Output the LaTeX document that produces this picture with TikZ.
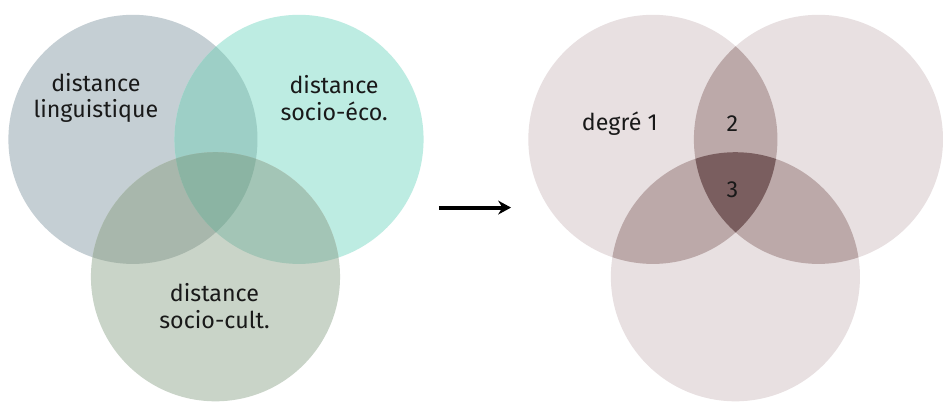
\documentclass[tikz,border=0pt]{standalone}
\usepackage{fontspec}
\setmainfont{Fira Sans}
\usetikzlibrary{arrows.meta}
\definecolor{ling}{HTML}{C5CFD4}
\definecolor{eco}{HTML}{BDECE2}
\definecolor{cult}{HTML}{C9D4C8}
\definecolor{lingeco}{HTML}{9DCFC6}
\definecolor{lingcult}{HTML}{A8B7AC}
\definecolor{ecocult}{HTML}{A3C5B6}
\definecolor{allthree}{HTML}{8BB4A3}
\definecolor{degone}{HTML}{E8E0E1}
\definecolor{degtwo}{HTML}{BCA9A9}
\definecolor{degthree}{HTML}{7A5E5F}
\begin{document}
\begin{tikzpicture}[x=1pt,y=1pt,>={Stealth[length=13pt,width=14pt]},font=\fontsize{23.5}{27}\selectfont,
    lbl/.style={align=center,text=black!90}]
    \def\r{126}
    \fill[white] (0,0) rectangle (943,401);
    \coordinate (A) at (134.5,260); \coordinate (B) at (302.5,260); \coordinate (C) at (218,121);
    \coordinate (D) at (660.5,260); \coordinate (E) at (828,260); \coordinate (F) at (744,121);
    %===========================================
    % left: three distances
    \fill[ling] (A) circle (\r);
    \fill[eco] (B) circle (\r);
    \fill[cult] (C) circle (\r);
    \begin{scope}
        \clip (A) circle (\r);
        \fill[lingeco] (B) circle (\r);
        \fill[lingcult] (C) circle (\r);
    \end{scope}
    \begin{scope}
        \clip (B) circle (\r);
        \fill[ecocult] (C) circle (\r);
        \clip (A) circle (\r);
        \fill[allthree] (C) circle (\r);
    \end{scope}
    \node[lbl] (ling) at (97,302) {distance\\linguistique};
    \node[lbl] (eco) at (338,302) {distance\\socio-éco.};
    \node[lbl] (cult) at (217,91) {distance\\socio-cult.};
    %===========================================
    % right: degrees
    \foreach \c in {D,E,F} \fill[degone] (\c) circle (\r);
    \foreach \p/\q in {D/E,D/F,E/F}{
        \begin{scope}
            \clip (\p) circle (\r);
            \fill[degtwo] (\q) circle (\r);
        \end{scope}}
    \begin{scope}
        \clip (D) circle (\r);
        \clip (E) circle (\r);
        \fill[degthree] (F) circle (\r);
    \end{scope}
    \node[lbl] (deg1) at (627,276) {degré 1};
    \node[lbl] (deg2) at (741,276) {2};
    \node[lbl] (deg3) at (741,209) {3};
    %===========================================
    \coordinate (from) at (444,191);
    \coordinate (to) at (517,191);
    \draw[->,line width=4] (from) -- (to);
\end{tikzpicture}
\end{document}
